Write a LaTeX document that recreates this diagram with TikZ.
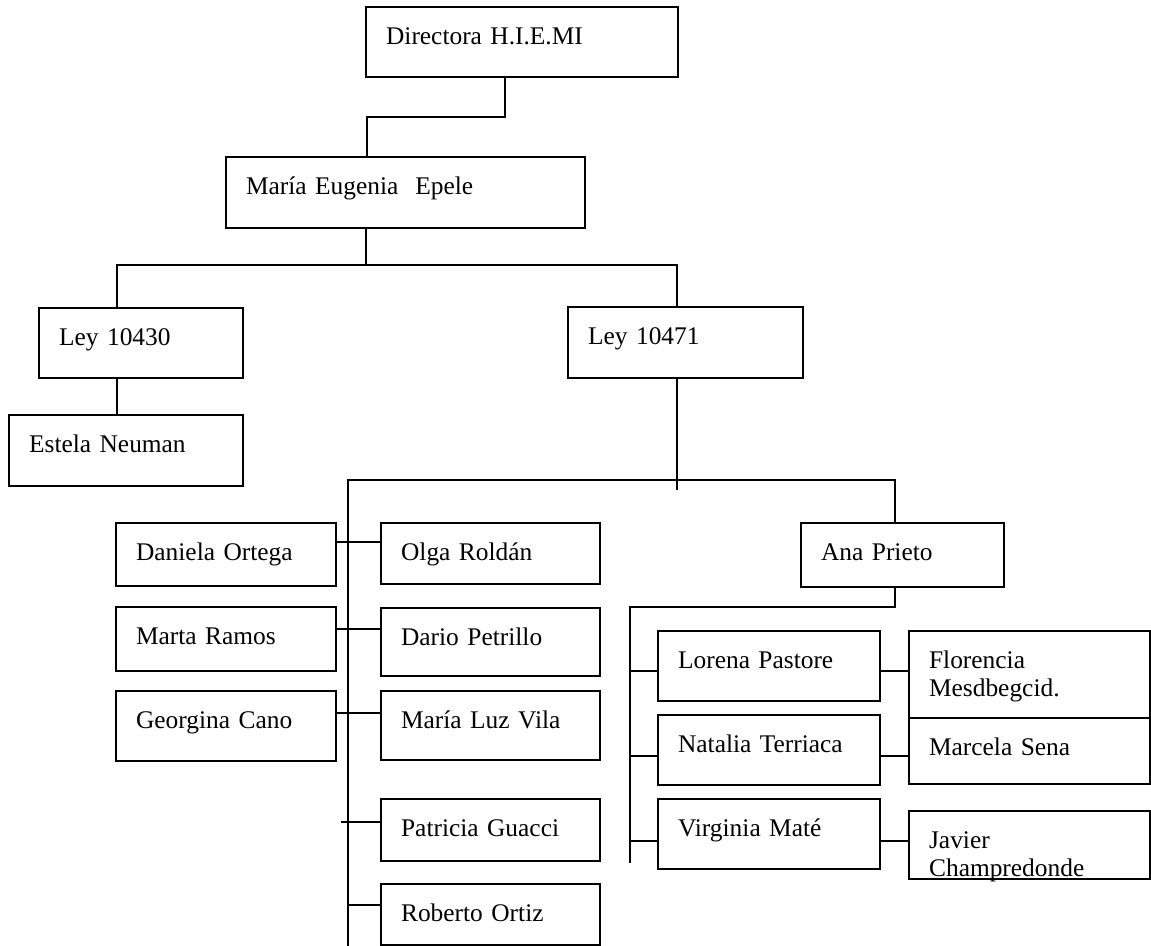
\documentclass[tikz,border=0pt]{standalone}
\usepackage{fontspec}
\setmainfont[WordSpace=0.8]{Liberation Serif}
\usepackage{tikz}
\tikzset{
    every node/.style={
        font=\fontsize{12.7}{14.3}\selectfont},
    box/.style={
        draw,
        line width=1.1pt,
        anchor=north west,
        align=left,
        inner xsep=10pt,
        inner ysep=0pt,
        text height=18.5pt,
        text depth=16.5pt},
    link/.style={
        draw,
        line width=0.8pt}}

\begin{document}
\begin{tikzpicture}[x=0.5pt,y=-0.5pt]
        \useasboundingbox (0,0) rectangle (1151,946);

        \node[box,text width=136pt] (1) at (365,6) {Directora H.I.E.MI};
        \node[box,text width=159.5pt,text depth=17pt] (2) at (225,156) {María Eugenia~ Epele};
        \node[box,text width=82pt,text depth=16.5pt] (3) at (38,307) {Ley 10430};
        \node[box,text width=97.5pt,text depth=17pt] (4) at (567,306) {Ley 10471};
        \node[box,text width=97pt,text depth=17pt] (5) at (8,414) {Estela Neuman};
        \node[box,text width=90pt,text depth=13pt] (6) at (115,522) {Daniela Ortega};
        \node[box,text width=89.5pt,text depth=12pt] (7) at (380,522) {Olga Roldán};
        \node[box,text width=90pt,text depth=13.5pt] (8) at (115,606) {Marta Ramos};
        \node[box,text width=89.5pt,text depth=15.5pt] (9) at (380,607) {Dario Petrillo};
        \node[box,text width=90pt,text depth=16.5pt] (10) at (115,690) {Georgina Cano};
        \node[box,text width=89.5pt,text depth=16pt] (11) at (380,690) {María Luz Vila};
        \node[box,text width=89.5pt,text depth=12.5pt] (12) at (380,798) {Patricia Guacci};
        \node[box,text width=89.5pt,text depth=12pt] (13) at (380,883) {Roberto Ortiz};
        \node[box,text width=81.5pt,text depth=13.5pt] (14) at (800,522) {Ana Prieto};
        \node[box,text width=91pt] (15) at (657,630) {Lorena Pastore};
        \node[box,text width=100.5pt,text depth=25pt] (16) at (908,630) {Florencia\\Mesdbegcid.};
        \node[box,text width=91pt] (17) at (657,714) {Natalia Terriaca};
        \node[box,text width=100.5pt,text depth=14.5pt] (18) at (908,717) {Marcela Sena};
        \node[box,text width=91pt] (19) at (657,798) {Virginia Maté};
        \node[box,text width=100.5pt,text depth=15.5pt] (20) at (908,810) {Javier\\Champredonde};

        % bends and junctions
        \coordinate (j0) at (505,117);
        \coordinate (j1) at (367,117);
        \coordinate (j2) at (366,265);
        \coordinate (j3) at (117,265);
        \coordinate (j4) at (677,265);
        \coordinate (k0) at (677,490);
        \coordinate (k1) at (348,480);
        \coordinate (k2) at (895,480);
        \coordinate (k3) at (348,946);
        \coordinate (t1) at (348,542);
        \coordinate (t2) at (348,629);
        \coordinate (t3) at (348,713);
        \coordinate (t4) at (341,822);
        \coordinate (t5) at (348,905);
        \coordinate (m0) at (895,607);
        \coordinate (m1) at (630,607);
        \coordinate (m2) at (630,863);
        \coordinate (r1) at (630,671);
        \coordinate (r2) at (630,756);
        \coordinate (r3) at (630,841);

        \draw[link] (1.south -| j0) -- (j0) -- (j1) -- (2.north -| j1);
        \draw[link] (2.south -| j2) -- (j2);
        \draw[link] (3.north -| j3) -- (j3) -- (j4) -- (4.north -| j4);
        \draw[link] (3.south -| j3) -- (5.north -| j3);
        \draw[link] (4.south -| k0) -- (k0);
        \draw[link] (k3) -- (k1) -- (k2) -- (14.north -| k2);
        \draw[link] (6.east |- t1) -- (7.west |- t1);
        \draw[link] (8.east |- t2) -- (9.west |- t2);
        \draw[link] (10.east |- t3) -- (11.west |- t3);
        \draw[link] (t4) -- (12.west |- t4);
        \draw[link] (t5) -- (13.west |- t5);
        \draw[link] (14.south -| m0) -- (m0) -- (m1) -- (m2);
        \draw[link] (r1) -- (15.west |- r1);
        \draw[link] (r2) -- (17.west |- r2);
        \draw[link] (r3) -- (19.west |- r3);
        \draw[link] (15.east |- r1) -- (16.west |- r1);
        \draw[link] (17.east |- r2) -- (18.west |- r2);
        \draw[link] (19.east |- r3) -- (20.west |- r3);
    \end{tikzpicture}
\end{document}
